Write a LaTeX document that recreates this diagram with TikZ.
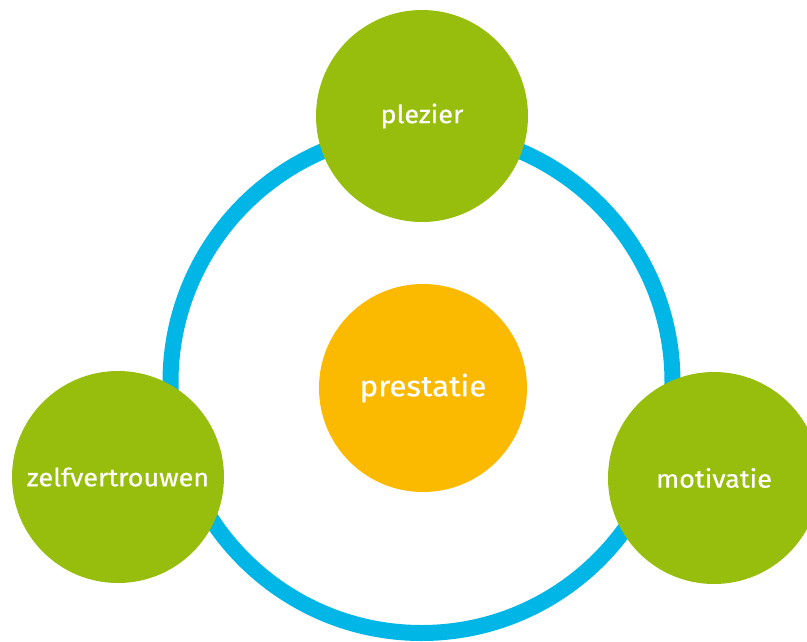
\documentclass[tikz,border=0pt]{standalone}
\usepackage{fontspec}
\setmainfont{Fira Sans}[FakeBold=0.6,FakeStretch=1.08]
\definecolor{leaf}{HTML}{97BE0D}
\definecolor{sky}{HTML}{00B6E7}
\definecolor{sun}{HTML}{FBBA00}
\begin{document}
\begin{tikzpicture}[x=1pt,y=-1pt,
  bubble/.style={circle,fill=leaf,inner sep=0pt,minimum size=212pt,text=white,font=\fontsize{25}{29}\selectfont},
  core/.style={circle,fill=sun,inner sep=0pt,minimum size=208pt,text=white,font=\fontsize{29}{33}\selectfont},
  ringline/.style={circle,draw=sky,line width=16pt,inner sep=0pt,minimum size=502pt}]
\clip (0,0) rectangle (807,641);
\useasboundingbox (0,0) rectangle (807,641);
\node[ringline] (ring) at (421.5,382) {};
\node[bubble] (plezier) at (422,116) {plezier};
\node[bubble] (zelf) at (118,477) {zelfvertrouwen};
\node[bubble] (motivatie) at (714,478) {motivatie};
\node[core] (prestatie) at (423,388) {prestatie};
\end{tikzpicture}
\end{document}
